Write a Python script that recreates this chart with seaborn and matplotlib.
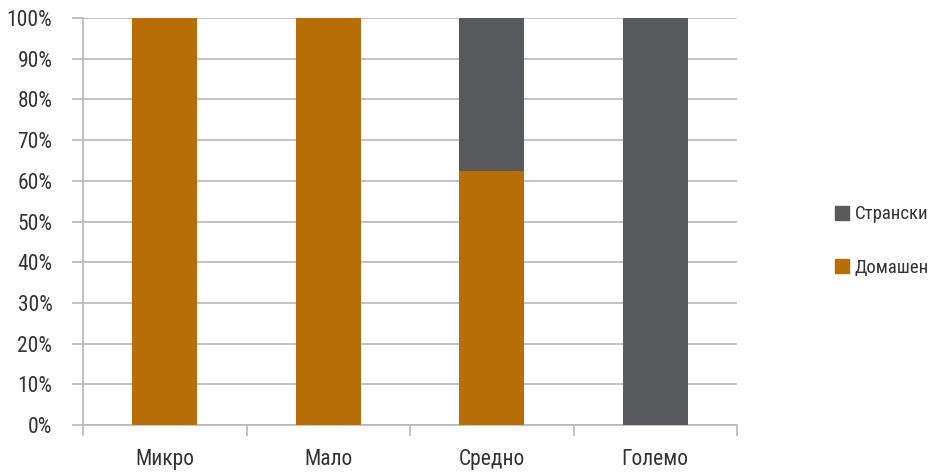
import numpy as np
import pandas as pd
import matplotlib
matplotlib.use("Agg")
import matplotlib.pyplot as plt
import seaborn as sns
from matplotlib.ticker import FixedLocator, PercentFormatter
from matplotlib.lines import Line2D

categories = ["Микро", "Мало", "Средно", "Големо"]
domestic = [100, 100, 62.5, 0]
foreign = [0, 0, 37.5, 100]

c_dom = "#B86E07"
c_for = "#58595B"
grid_c = "#B8B8B8"

sns.set_style("white")
plt.rcParams["font.family"] = ["Roboto Condensed", "DejaVu Sans"]
plt.rcParams["font.stretch"] = "condensed"

df = pd.DataFrame({"cat": categories, "Домашен": domestic, "Странски": foreign})

fig = plt.figure(figsize=(9.37, 4.73), dpi=100)
ax = fig.add_axes([83 / 937, 1 - 425 / 473, (737 - 83) / 937, (425 - 18) / 473])

sns.barplot(data=df, x="cat", y="Домашен", color=c_dom, width=0.4, ax=ax,
            saturation=1, linewidth=0, zorder=3)
sns.barplot(data=df, x="cat", y="Странски", color=c_for, width=0.4, ax=ax,
            saturation=1, linewidth=0, bottom=df["Домашен"], zorder=3)

ax.set_xlim(-0.5, 3.5)
ax.set_ylim(0, 100)
ax.set_yticks(np.arange(0, 101, 10))
ax.yaxis.set_major_formatter(PercentFormatter(decimals=0))
ax.yaxis.grid(True, color=grid_c, linewidth=1.2, zorder=0)
ax.set_xlabel("")
ax.set_ylabel("")

for s in ["top", "right"]:
    ax.spines[s].set_visible(False)
for s in ["left", "bottom"]:
    ax.spines[s].set_color(grid_c)
    ax.spines[s].set_linewidth(1.2)

ax.tick_params(axis="y", which="major", left=True, length=8, color=grid_c,
               width=1.2, labelsize=15.5, labelcolor="#333333", pad=14)
ax.tick_params(axis="x", which="major", bottom=False, length=0, labelsize=15.5,
               labelcolor="#333333", pad=17)
ax.xaxis.set_minor_locator(FixedLocator(np.arange(-0.5, 4, 1)))
ax.tick_params(axis="x", which="minor", bottom=True, length=8, color=grid_c,
               width=1.2)

handles = [
    Line2D([], [], marker="s", linestyle="", markersize=10, color=c_for),
    Line2D([], [], marker="s", linestyle="", markersize=10, color=c_dom),
]
fig.legend(handles, ["Странски", "Домашен"], loc="center left",
           bbox_to_anchor=(834 / 937, 1 - 241 / 473), frameon=False,
           fontsize=13.5, labelcolor="#333333", handletextpad=0.2,
           labelspacing=1.9, handlelength=0.9, borderaxespad=0, borderpad=0)

fig.savefig("out.png", dpi=100)
